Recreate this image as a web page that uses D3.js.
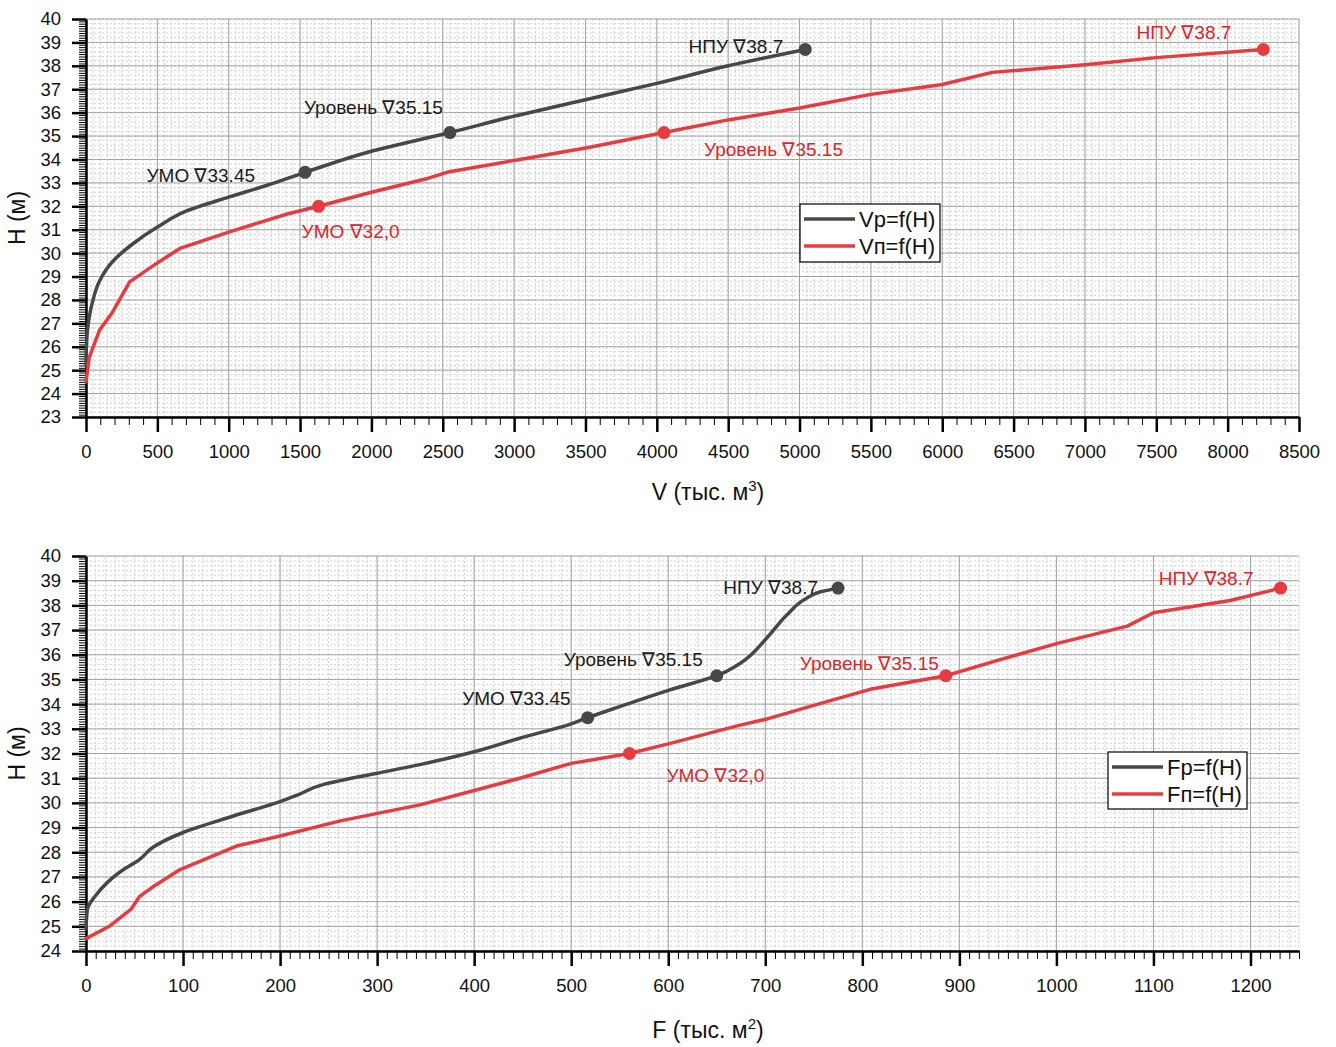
<!DOCTYPE html>
<html>
<head>
<meta charset="utf-8">
<script src="https://cdn.jsdelivr.net/npm/d3@7"></script>
<style>
  html, body { margin: 0; padding: 0; background: #fff; }
  svg { display: block; font-family: "Liberation Sans", Arial, sans-serif; }
</style>
</head>
<body>
<svg id="chart" width="1336" height="1047"></svg>
<script>
// ---------------- DATA ----------------
// Top chart: V (тыс. м3) vs H (м)
const vpV = [0, 3, 12, 47, 94, 188, 329, 498, 705, 1004, 1270, 1535, 2000, 2550, 3000, 3500, 4000, 4500, 5040];
const vpH = [25.2, 26.0, 26.8, 27.95, 28.8, 29.65, 30.4, 31.1, 31.8, 32.4, 32.9, 33.45, 34.35, 35.15, 35.85, 36.55, 37.25, 38.0, 38.7];
const vnV = [0, 23, 94, 188, 306, 494, 658, 1011, 1410, 1630, 2000, 2400, 2528, 3020, 3511, 4050, 4500, 5000, 5500, 6000, 6350, 7000, 7500, 8250];
const vnH = [24.5, 25.55, 26.7, 27.5, 28.77, 29.56, 30.2, 30.92, 31.67, 32.0, 32.6, 33.2, 33.45, 33.98, 34.5, 35.15, 35.69, 36.2, 36.78, 37.2, 37.72, 38.05, 38.35, 38.7];
// Bottom chart: F (тыс. м2) vs H (м)
const fpF = [0, 1.5, 10, 35, 55, 69, 100, 152, 200, 217, 245, 262, 300, 344, 400, 447, 500, 517, 550, 601, 650, 674, 702, 722, 743, 757, 775];
const fpH = [24.9, 25.7, 26.25, 27.2, 27.7, 28.2, 28.8, 29.47, 30.05, 30.3, 30.75, 30.9, 31.2, 31.55, 32.07, 32.62, 33.2, 33.45, 33.9, 34.57, 35.15, 35.65, 36.7, 37.6, 38.3, 38.55, 38.7];
const fnF = [0, 24, 46.5, 55, 69, 97, 155, 200, 262, 344, 400, 447, 500, 560, 601, 674, 702, 757, 808, 886, 942, 1001, 1073, 1100, 1179, 1231];
const fnH = [24.5, 25.0, 25.7, 26.2, 26.6, 27.3, 28.25, 28.66, 29.27, 29.92, 30.5, 31.0, 31.6, 32.0, 32.4, 33.15, 33.4, 34.03, 34.6, 35.15, 35.8, 36.46, 37.16, 37.7, 38.2, 38.7];

// Marked levels
const vpMarkV = [1535, 2550, 5040];
const vpMarkH = [33.45, 35.15, 38.7];
const vpMarkLabels = ["УМО ∇33.45", "Уровень ∇35.15", "НПУ ∇38.7"];
const vnMarkV = [1630, 4050, 8250];
const vnMarkH = [32.0, 35.15, 38.7];
const vnMarkLabels = ["УМО ∇32,0", "Уровень ∇35.15", "НПУ ∇38.7"];
const fpMarkF = [517, 650, 775];
const fpMarkH = [33.45, 35.15, 38.7];
const fpMarkLabels = ["УМО ∇33.45", "Уровень ∇35.15", "НПУ ∇38.7"];
const fnMarkF = [560, 886, 1231];
const fnMarkH = [32.0, 35.15, 38.7];
const fnMarkLabels = ["УМО ∇32,0", "Уровень ∇35.15", "НПУ ∇38.7"];

// Ticks
const topXTicks = d3.range(0, 8501, 500);
const topYTicks = d3.range(23, 41, 1);
const botXTicks = d3.range(0, 1201, 100);
const botYTicks = d3.range(24, 41, 1);

const topLegend = ["Vр=f(H)", "Vп=f(H)"];
const botLegend = ["Fр=f(H)", "Fп=f(H)"];

// ---------------- STYLE ----------------
const GRAY = "#474747";
const RED = "#e63b40";
const FONT = "Liberation Sans, Arial, sans-serif";
const svg = d3.select("#chart");

function panel(opt) {
  const g = svg.append("g");
  const x = d3.scaleLinear().domain(opt.xDomain).range([86, 1299]);
  const y = d3.scaleLinear().domain(opt.yDomain).range([opt.yBottom, opt.yTop]);
  const [x0, x1] = opt.xDomain, [y0, y1] = opt.yDomain;

  // minor grid
  const mg = g.append("g").attr("stroke", "#d2d2d2").attr("stroke-width", 1).attr("stroke-dasharray", "2,2");
  d3.range(x0, x1 + 1e-9, opt.xMinorGrid).forEach(v => {
    mg.append("line").attr("x1", x(v)).attr("x2", x(v)).attr("y1", y(y0)).attr("y2", y(y1));
  });
  d3.range(y0, y1 + 1e-9, 0.2).forEach(v => {
    mg.append("line").attr("y1", y(v)).attr("y2", y(v)).attr("x1", x(x0)).attr("x2", x(x1));
  });
  // major grid
  const gg = g.append("g").attr("stroke", "#a3a3a3").attr("stroke-width", 1);
  opt.xTicks.forEach(v => gg.append("line").attr("x1", x(v)).attr("x2", x(v)).attr("y1", y(y0)).attr("y2", y(y1)));
  opt.yTicks.forEach(v => gg.append("line").attr("y1", y(v)).attr("y2", y(v)).attr("x1", x(x0)).attr("x2", x(x1)));

  // axes: minor ticks
  const xMinor = d3.axisBottom(x).tickValues(d3.range(x0, x1 + 1e-9, opt.xMinorTick)).tickSize(8).tickFormat("");
  const gxm = g.append("g").attr("transform", `translate(0,${y(y0)})`).call(xMinor);
  gxm.select(".domain").remove();
  gxm.selectAll("line").attr("stroke", "#000").attr("stroke-width", 1);
  const yMinor = d3.axisLeft(y).tickValues(d3.range(y0, y1 + 1e-9, 0.1)).tickSize(7).tickFormat("");
  const gym = g.append("g").attr("transform", `translate(86,0)`).call(yMinor);
  gym.select(".domain").remove();
  gym.selectAll("line").attr("stroke", "#000").attr("stroke-width", 1);

  // major axes
  const xAxis = d3.axisBottom(x).tickValues(opt.xTicks).tickSize(15).tickSizeOuter(0).tickPadding(13).tickFormat(d3.format("d"));
  const gx = g.append("g").attr("transform", `translate(0,${y(y0)})`).call(xAxis);
  gx.select(".domain").attr("stroke", "#000").attr("stroke-width", 2.5);
  gx.selectAll(".tick line").attr("stroke", "#000").attr("stroke-width", 2.5);
  gx.selectAll("text").attr("font-size", 18.5).attr("fill", "#111").attr("font-family", FONT);
  const yAxis = d3.axisLeft(y).tickValues(opt.yTicks).tickSize(14).tickSizeOuter(0).tickPadding(11).tickFormat(d3.format("d"));
  const gy = g.append("g").attr("transform", `translate(86,0)`).call(yAxis);
  gy.select(".domain").attr("stroke", "#000").attr("stroke-width", 2.5);
  gy.selectAll(".tick line").attr("stroke", "#000").attr("stroke-width", 2.5);
  gy.selectAll("text").attr("font-size", 18.5).attr("fill", "#111").attr("font-family", FONT);

  // titles
  g.append("text").attr("transform", `translate(25,${(y(y0) + y(y1)) / 2}) rotate(-90)`)
    .attr("text-anchor", "middle").attr("font-size", 23).attr("fill", "#111").text("H (м)");
  const t = g.append("text").attr("x", 708).attr("y", y(y0) + opt.titleOffset)
    .attr("text-anchor", "middle").attr("font-size", 23).attr("fill", "#111");
  t.append("tspan").text(opt.xTitle);
  t.append("tspan").attr("font-size", 15).attr("dy", -9).text(opt.xSup);
  t.append("tspan").attr("dy", 9).text(")");

  // curves
  opt.series.forEach(s => {
    const line = d3.line().x(d => x(d[0])).y(d => y(d[1])).curve(s.smooth ? d3.curveMonotoneY : d3.curveLinear);
    const pts = s.xs.map((v, i) => [v, s.ys[i]]);
    g.append("path").attr("d", line(pts)).attr("fill", "none").attr("stroke", s.color)
      .attr("stroke-width", 3.5).attr("stroke-linejoin", "round").attr("stroke-linecap", "round");
  });
  opt.series.forEach(s => {
    s.mx.forEach((v, i) => {
      g.append("circle").attr("cx", x(v)).attr("cy", y(s.my[i])).attr("r", 6.5).attr("fill", s.color);
      const o = s.offsets[i];
      g.append("text").attr("x", x(v) + o[0]).attr("y", y(s.my[i]) + o[1])
        .attr("text-anchor", o[2]).attr("dominant-baseline", "central")
        .attr("font-size", 19).attr("fill", s.textColor).text(s.labels[i]);
    });
  });

  // legend
  const L = opt.legend;
  const lg = g.append("g");
  lg.append("rect").attr("x", L.x).attr("y", L.y).attr("width", L.w).attr("height", L.h)
    .attr("fill", "#fff").attr("stroke", "#000").attr("stroke-width", 1.2);
  opt.series.forEach((s, i) => {
    const yy = L.y + 15 + i * 27;
    lg.append("line").attr("x1", L.x + 4).attr("x2", L.x + 55).attr("y1", yy).attr("y2", yy)
      .attr("stroke", s.color).attr("stroke-width", 3.5);
    lg.append("text").attr("x", L.x + 59).attr("y", yy).attr("dominant-baseline", "central")
      .attr("font-size", 22).attr("fill", "#111").text(L.names[i]);
  });
}

panel({
  xDomain: [0, 8500], yDomain: [23, 40], yTop: 19, yBottom: 417,
  xTicks: topXTicks, yTicks: topYTicks, xMinorGrid: 50, xMinorTick: 100,
  xTitle: "V (тыс. м", xSup: "3", titleOffset: 83,
  series: [
    { xs: vpV, ys: vpH, color: GRAY, textColor: "#1a1a1a", mx: vpMarkV, my: vpMarkH, labels: vpMarkLabels, smooth: true,
      offsets: [[-50, 3, "end"], [-7, -25, "end"], [-22, -3, "end"]] },
    { xs: vnV, ys: vnH, color: RED, textColor: "#d9262c", mx: vnMarkV, my: vnMarkH, labels: vnMarkLabels, smooth: false,
      offsets: [[-17, 25, "start"], [40, 17, "start"], [-32, -17, "end"]] }
  ],
  legend: { x: 800, y: 204, w: 140, h: 58, names: topLegend }
});

panel({
  xDomain: [0, 1250], yDomain: [24, 40], yTop: 556, yBottom: 951,
  xTicks: botXTicks, yTicks: botYTicks, xMinorGrid: 10, xMinorTick: 10,
  xTitle: "F (тыс. м", xSup: "2", titleOffset: 87,
  series: [
    { xs: fpF, ys: fpH, color: GRAY, textColor: "#1a1a1a", mx: fpMarkF, my: fpMarkH, labels: fpMarkLabels, smooth: true,
      offsets: [[-17, -19, "end"], [-14, -16, "end"], [-20, -1, "end"]] },
    { xs: fnF, ys: fnH, color: RED, textColor: "#d9262c", mx: fnMarkF, my: fnMarkH, labels: fnMarkLabels, smooth: false,
      offsets: [[37, 22, "start"], [-7, -12, "end"], [-27, -10, "end"]] }
  ],
  legend: { x: 1108, y: 752, w: 139, h: 57, names: botLegend }
});
</script>
</body>
</html>
